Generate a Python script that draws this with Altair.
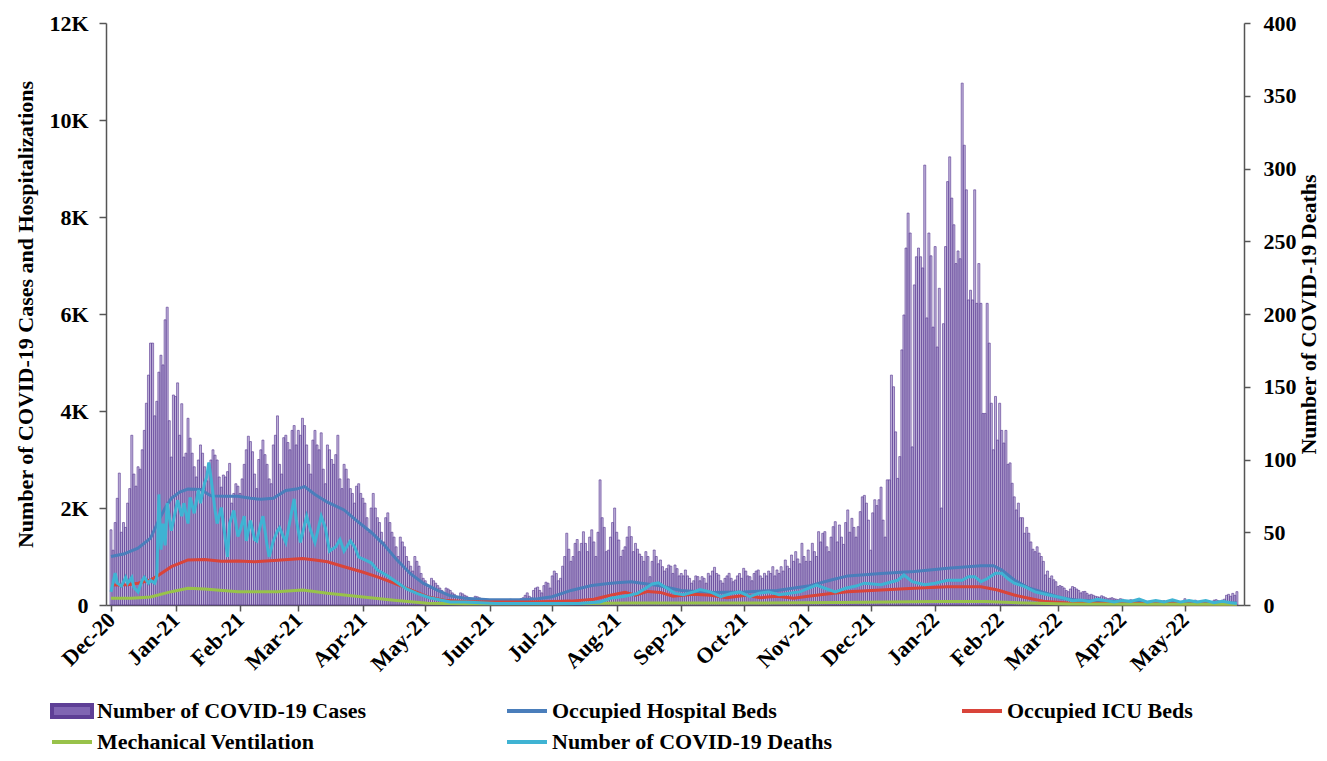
import altair as alt
import pandas as pd

# ---------------- daily new cases (Dec 1 2020 .. May 26 2022) ----------------
cases_2020_12 = [1550, 1130, 1700, 2200, 2720, 1500, 1700, 1600, 2100, 2400, 3500, 2700, 2450, 2850, 2800,
                 3200, 3600, 4160, 4740, 5400, 5400, 3900, 4200, 4800, 5150, 4950, 5880, 6140, 3800, 3050, 4330]
cases_2021_01 = [4300, 4580, 3500, 4150, 3050, 3130, 3850, 3440, 3130, 2850, 2640, 2990, 3300, 3130, 2850,
                 2560, 2920, 2990, 3200, 3090, 2990, 2640, 2430, 2680, 2640, 2750, 2920, 2100, 2300, 2500, 2450]
cases_2021_02 = [2300, 2600, 2900, 3200, 3480, 3370, 3160, 2700, 2400, 3000, 3200, 3400, 3100, 2900,
                 2600, 2500, 3300, 3500, 3900, 2900, 2700, 3450, 3500, 3350, 3200, 3600, 3700, 3300]
cases_2021_03 = [3600, 3500, 3850, 3700, 3300, 2900, 2700, 3400, 3600, 3300, 3200, 3550, 2800, 2500, 3300,
                 3200, 3000, 2900, 3100, 3500, 2600, 2400, 2900, 2800, 2600, 2400, 2300, 2100, 2450, 2500, 2300]
cases_2021_04 = [2200, 2100, 1800, 1500, 2000, 2300, 2000, 1800, 1700, 1500, 1300, 1800, 1900, 1700, 1500,
                 1400, 1200, 1000, 1400, 1300, 1200, 1000, 900, 800, 700, 1000, 900, 800, 650, 550]
cases_2021_05 = [500, 400, 350, 550, 500, 450, 400, 350, 300, 250, 350, 330, 300, 250, 220, 180,
                 160, 250, 230, 200, 180, 150, 130, 120, 180, 170, 150, 130, 110, 100, 90]
cases_2021_06 = [80, 70, 60, 90, 100, 80, 70, 60, 80, 100, 120, 90, 80, 70, 100,
                 130, 150, 200, 250, 180, 150, 300, 350, 370, 300, 250, 400, 470, 450, 350]
cases_2021_07 = [600, 700, 650, 500, 550, 800, 1000, 1480, 1150, 900, 1000, 1270, 1350, 1100, 1270,
                 1510, 1270, 1100, 1400, 1550, 1300, 1000, 1500, 2580, 1800, 1600, 1100, 1130, 1400, 1700, 2000]
cases_2021_08 = [1500, 1340, 1000, 1130, 1200, 1400, 1615, 1410, 1100, 1270, 1150, 1050, 1000, 900, 1100,
                 1000, 584, 900, 1134, 1000, 850, 928, 790, 700, 750, 825, 800, 650, 825, 750, 600]
cases_2021_09 = [650, 600, 722, 600, 550, 450, 500, 600, 585, 500, 584, 550, 450, 653, 600,
                 700, 777, 650, 619, 500, 450, 550, 600, 653, 550, 480, 516, 600, 650, 550]
cases_2021_10 = [756, 700, 600, 584, 500, 650, 700, 722, 600, 550, 653, 600, 700, 650, 790,
                 600, 722, 650, 790, 700, 928, 800, 750, 1030, 900, 1100, 950, 850, 1272, 1000, 900]
cases_2021_11 = [1134, 900, 1272, 1100, 1000, 1512, 1300, 1478, 1512, 1200, 1100, 1400, 1615, 1718, 1300,
                 1650, 1400, 1250, 1700, 1960, 1500, 1787, 1600, 1400, 1615, 1925, 2230, 2260, 2100, 1750]
cases_2021_12 = [1130, 1900, 2170, 2050, 2170, 2430, 1750, 1400, 2580, 2580, 4740, 4500, 3570, 2610, 3060,
                 5260, 5980, 7360, 8080, 7670, 3260, 6600, 7180, 7360, 7180, 6950, 9070, 5920, 7670, 7200, 5730]
cases_2022_01 = [7390, 5320, 6530, 2000, 5800, 7390, 8730, 9240, 8390, 7840, 7040, 7300, 7140, 10760, 9480,
                 8560, 6290, 6490, 6290, 8560, 6220, 7040, 6220, 3950, 3950, 6220, 5400, 4160, 3200, 4300, 3400]
cases_2022_02 = [4160, 3600, 3340, 3600, 2900, 2930, 2510, 2230, 1960, 2100, 1800, 1800, 1480, 1600,
                 1480, 1300, 1150, 1100, 1200, 1070, 1000, 900, 620, 700, 550, 600, 520, 480]
cases_2022_03 = [380, 400, 380, 350, 300, 275, 330, 380, 360, 330, 300, 250, 275, 280, 240,
                 205, 220, 200, 180, 170, 160, 190, 170, 150, 130, 140, 150, 130, 120, 110, 130]
cases_2022_04 = [120, 100, 90, 80, 110, 100, 90, 80, 70, 90, 100, 80, 70, 60, 80,
                 90, 70, 60, 60, 80, 90, 70, 60, 50, 70, 80, 70, 60, 60, 80]
cases_2022_05 = [130, 90, 80, 70, 90, 100, 80, 70, 60, 80, 90, 80, 70, 60, 100,
                 110, 90, 80, 100, 120, 200, 220, 180, 240, 200, 275]

# ---------------- line series: (day offset from Dec 1 2020, value) ----------------
beds_days = [0, 6, 13, 19, 23, 26, 29, 33, 37, 43, 48, 55, 61, 67, 72, 78, 84, 89, 93, 98, 104, 112, 118,
             125, 131, 137, 144, 150, 157, 163, 170, 182, 197, 205, 212, 221, 231, 238, 243, 250, 255, 263,
             274, 288, 304, 320, 335, 346, 354, 370, 386, 402, 418, 424, 428, 434, 441, 449, 457, 465, 481,
             500, 520, 541]
beds_vals = [1000, 1050, 1170, 1380, 1750, 2000, 2200, 2330, 2390, 2380, 2250, 2240, 2240, 2200, 2180, 2200,
             2360, 2390, 2440, 2280, 2120, 1960, 1740, 1500, 1250, 950, 640, 450, 300, 190, 140, 110, 110,
             130, 170, 300, 400, 440, 460, 480, 450, 400, 300, 260, 270, 300, 390, 515, 600, 650, 690, 760,
             810, 810, 720, 515, 350, 250, 140, 100, 70, 50, 40, 40]

icu_days = [0, 8, 13, 19, 23, 29, 37, 45, 53, 61, 69, 80, 92, 98, 104, 112, 120, 128, 136, 144, 152, 160,
            170, 182, 200, 212, 221, 232, 240, 247, 252, 258, 264, 270, 280, 288, 296, 305, 312, 320, 328,
            335, 345, 354, 370, 386, 402, 418, 426, 434, 441, 449, 460, 480, 541]
icu_vals = [410, 420, 450, 515, 620, 790, 930, 940, 900, 905, 890, 925, 960, 930, 890, 790, 690, 580, 450,
            310, 170, 100, 70, 60, 60, 70, 80, 120, 200, 260, 200, 280, 260, 180, 220, 200, 150, 200, 150,
            180, 140, 180, 230, 275, 310, 345, 378, 378, 310, 205, 140, 70, 40, 30, 20]

vent_days = [0, 10, 19, 29, 37, 45, 61, 80, 92, 104, 120, 136, 152, 170, 212, 250, 300, 350, 396, 420, 440,
             460, 541]
vent_vals = [140, 140, 165, 275, 345, 330, 275, 275, 310, 240, 172, 100, 35, 25, 25, 40, 40, 50, 70, 70, 40,
             20, 15]

deaths_days = [0, 2, 3, 5, 7, 8, 10, 11, 13, 15, 16, 18, 19, 21, 22, 23, 24, 25, 26, 27, 29, 30, 32, 34, 35,
               37, 38, 40, 42, 43, 45, 46, 47, 48, 50, 51, 53, 54, 56, 57, 59, 61, 62, 64, 65, 67, 69, 70,
               72, 73, 75, 76, 78, 80, 81, 84, 88, 89, 91, 94, 96, 98, 101, 103, 105, 108, 110, 112, 115,
               117, 119, 122, 125, 128, 133, 138, 142, 147, 153, 163, 170, 185, 200, 212, 225, 235, 240,
               247, 253, 258, 260, 263, 266, 271, 275, 280, 283, 288, 293, 298, 302, 307, 311, 316, 321,
               326, 331, 335, 339, 343, 348, 353, 358, 362, 370, 378, 381, 385, 391, 396, 402, 409, 412,
               415, 418, 421, 425, 428, 431, 434, 439, 444, 450, 458, 462, 466, 470, 474, 478, 482, 486,
               490, 494, 498, 502, 506, 510, 514, 518, 522, 526, 530, 534, 538, 541]
deaths_vals = [9, 22, 15, 13, 19, 15, 19, 12, 9, 17, 19, 15, 17, 15, 19, 76, 38, 56, 41, 70, 51, 58, 72, 61,
               70, 56, 74, 63, 79, 70, 84, 88, 98, 88, 65, 56, 67, 56, 33, 56, 65, 47, 51, 61, 44, 58, 45,
               44, 56, 61, 41, 33, 44, 51, 53, 43, 73, 59, 43, 61, 51, 43, 61, 53, 37, 40, 45, 37, 44, 40,
               33, 31, 29, 24, 20, 15, 11, 8, 5, 2, 2, 1, 1, 1, 1, 2, 4.6, 6, 8, 12.6, 14.5, 15.3, 12.6, 8,
               7, 9, 10.6, 9, 5.7, 8, 9, 5.7, 8, 9, 7, 8, 9, 11.5, 13.7, 11.5, 9, 11.5, 13, 15, 14, 17,
               20.6, 16, 14, 15, 17, 17, 19.5, 19.5, 16, 18, 21.8, 21.8, 18, 15, 12.6, 9, 7, 4.6, 3, 3.5,
               2.5, 4, 3, 2, 3, 2.5, 4, 2, 3, 2, 3.5, 2, 3, 2, 3, 1.5, 2.5, 1.5, 1]

month_ticks = [(2020, 12), (2021, 1), (2021, 2), (2021, 3), (2021, 4), (2021, 5), (2021, 6), (2021, 7),
               (2021, 8), (2021, 9), (2021, 10), (2021, 11), (2021, 12), (2022, 1), (2022, 2), (2022, 3),
               (2022, 4), (2022, 5)]
left_ticks = [0, 2000, 4000, 6000, 8000, 10000, 12000]
right_ticks = [0, 50, 100, 150, 200, 250, 300, 350, 400]

L_CASES = "Number of COVID-19 Cases"
L_BEDS = "Occupied Hospital Beds"
L_ICU = "Occupied ICU Beds"
L_VENT = "Mechanical Ventilation"
L_DEATHS = "Number of COVID-19 Deaths"

# ---------------- build tables ----------------
START = pd.Timestamp("2020-12-01")


def day_str(d):
    return (START + pd.Timedelta(days=d)).strftime("%Y-%m-%d")


cases = (cases_2020_12 + cases_2021_01 + cases_2021_02 + cases_2021_03 + cases_2021_04 + cases_2021_05 +
         cases_2021_06 + cases_2021_07 + cases_2021_08 + cases_2021_09 + cases_2021_10 + cases_2021_11 +
         cases_2021_12 + cases_2022_01 + cases_2022_02 + cases_2022_03 + cases_2022_04 + cases_2022_05)
cases_df = pd.DataFrame({"date": [day_str(i) for i in range(len(cases))], "value": cases, "series": L_CASES})


def line_df(days, vals, label):
    return pd.DataFrame({"date": [day_str(d) for d in days], "value": vals, "series": label})


FONT = "Liberation Serif"
x_scale = alt.Scale(type="utc", domain=[alt.DateTime(year=2020, month=12, date=1, utc=True),
                                        alt.DateTime(year=2022, month=5, date=27, utc=True)])
x_axis = alt.Axis(values=[alt.DateTime(year=y, month=m, date=1, utc=True) for y, m in month_ticks],
                  labelExpr="utcFormat(datum.value, '%b-%y')", labelAngle=315, labelAlign="right",
                  labelBaseline="middle", labelPadding=5, tickSize=6, labelOverlap=False,
                  labelBound=False, labelFlush=False, title=None)
x_enc = alt.X("date:T", scale=x_scale, axis=x_axis)

left_scale = alt.Scale(domain=[0, 12000], nice=False, zero=True)
left_axis = alt.Axis(values=left_ticks, orient="left",
                     labelExpr="datum.value == 0 ? '0' : (datum.value / 1000) + 'K'",
                     tickSize=7, labelPadding=11,
                     title="Number of COVID-19 Cases and Hospitalizations", titleAngle=270,
                     titleX=-81, titleY=291, titleAlign="center", titleBaseline="middle")
right_scale = alt.Scale(domain=[0, 400], nice=False, zero=True)
right_axis = alt.Axis(values=right_ticks, orient="right", tickSize=6, labelPadding=13,
                      title="Number of COVID-19 Deaths", titleAngle=270,
                      titleX=64, titleY=291, titleAlign="center", titleBaseline="middle")


def legend(x, y, symbol):
    return alt.Legend(orient="none", legendX=x, legendY=y, title=None, symbolType=symbol,
                      symbolSize=1600, symbolStrokeWidth=4, symbolOpacity=1, labelFont=FONT,
                      labelFontSize=22, labelFontWeight="bold", labelColor="#000000", labelOffset=3,
                      padding=0, labelLimit=400)


bars = alt.Chart(cases_df).mark_bar(size=2, fillOpacity=0.5, stroke="#5e3f96", strokeWidth=0.65).encode(
    x=x_enc,
    y=alt.Y("value:Q", scale=left_scale, axis=left_axis),
    fill=alt.Fill("series:N", scale=alt.Scale(domain=[L_CASES], range=["#8065b3"]),
                  legend=legend(-56, 666, "M-1,-0.3H1V0.3H-1Z")),
)


def line_layer(df, label, color, lx, ly, yscale, yaxis):
    return alt.Chart(df).mark_line(strokeWidth=3).encode(
        x=x_enc,
        y=alt.Y("value:Q", scale=yscale, axis=yaxis),
        stroke=alt.Stroke("series:N", scale=alt.Scale(domain=[label], range=[color]),
                          legend=legend(lx, ly, "stroke")),
    )


beds = line_layer(line_df(beds_days, beds_vals, L_BEDS), L_BEDS, "#4a7ebb", 399, 666, left_scale, None)
icu = line_layer(line_df(icu_days, icu_vals, L_ICU), L_ICU, "#d9443a", 854, 666, left_scale, None)
vent = line_layer(line_df(vent_days, vent_vals, L_VENT), L_VENT, "#98c24a", -56, 697, left_scale, None)
deaths = line_layer(line_df(deaths_days, deaths_vals, L_DEATHS), L_DEATHS, "#3fb3d3", 399, 697,
                    right_scale, right_axis)

chart = alt.layer(bars, beds, icu, vent, deaths).resolve_scale(
    y="independent", fill="independent", stroke="independent"
).properties(
    width=1138, height=582,
    autosize=alt.AutoSizeParams(type="none"),
    padding={"left": 98, "top": 15, "right": 75, "bottom": 148},
    background="white",
).configure_view(stroke=None).configure_axis(
    labelFont=FONT, labelFontSize=22, labelFontWeight="bold", labelColor="#000000",
    titleFont=FONT, titleFontSize=22, titleFontWeight="bold", titleColor="#000000",
    domainColor="#555555", tickColor="#555555", domainWidth=1.5, tickWidth=1.5, grid=False,
)

chart.save("out.html", embed_options={"renderer": "svg", "actions": False})
